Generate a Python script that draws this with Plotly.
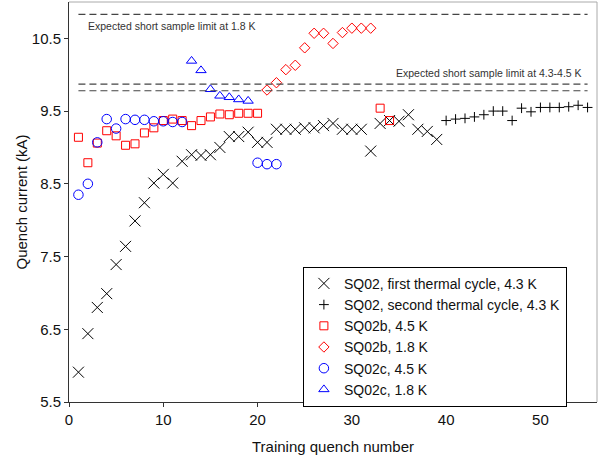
import plotly.graph_objects as go

# SQ02, first thermal cycle, 4.3 K
first_n = list(range(1, 40))
first_i = [5.91, 6.44, 6.80, 6.99, 7.39, 7.64, 7.99, 8.24, 8.51, 8.63,
           8.51, 8.81, 8.90, 8.89, 8.90, 9.00, 9.15, 9.15, 9.21, 9.07,
           9.07, 9.25, 9.25, 9.25, 9.27, 9.27, 9.30, 9.33, 9.25, 9.25,
           9.25, 8.95, 9.33, 9.37, 9.36, 9.45, 9.25, 9.22, 9.11]

# SQ02, second thermal cycle, 4.3 K
second_n = list(range(40, 56))
second_i = [9.37, 9.39, 9.40, 9.42, 9.45, 9.50, 9.50, 9.37, 9.54, 9.49,
            9.55, 9.55, 9.55, 9.56, 9.58, 9.55]

# SQ02b, 4.5 K
b45_n = list(range(1, 21)) + [33, 34]
b45_i = [9.14, 8.79, 9.06, 9.23, 9.16, 9.03, 9.05, 9.20, 9.27, 9.37,
         9.39, 9.37, 9.30, 9.37, 9.42, 9.46, 9.45, 9.47, 9.47, 9.47,
         9.54, 9.37]

# SQ02b, 1.8 K
b18_n = list(range(21, 33))
b18_i = [9.79, 9.89, 10.07, 10.13, 10.37, 10.57, 10.57, 10.43, 10.58,
         10.64, 10.64, 10.64]

# SQ02c, 4.5 K
c45_n = list(range(1, 13)) + [20, 21, 22]
c45_i = [8.35, 8.50, 9.07, 9.39, 9.26, 9.39, 9.38, 9.38, 9.36, 9.36,
         9.35, 9.35, 8.79, 8.77, 8.77]

# SQ02c, 1.8 K
c18_n = list(range(13, 20))
c18_i = [10.19, 10.06, 9.80, 9.71, 9.69, 9.66, 9.64]

# Expected short sample limits (kA) and the quench span they cover
limit_18 = [10.83]
limit_45 = [9.87, 9.78]
limit_span = [1, 55]

x_ticks = [0, 10, 20, 30, 40, 50]
y_ticks = [5.5, 6.5, 7.5, 8.5, 9.5, 10.5]

FONT = "Arial, Liberation Sans, sans-serif"

series = [
    (first_n, first_i, "SQ02, first thermal cycle, 4.3 K", "x-thin-open", 11, "black"),
    (second_n, second_i, "SQ02, second thermal cycle, 4.3 K", "cross-thin-open", 7, "black"),
    (b45_n, b45_i, "SQ02b, 4.5 K", "square-open", 8, "red"),
    (b18_n, b18_i, "SQ02b, 1.8 K", "diamond-open", 8, "red"),
    (c45_n, c45_i, "SQ02c, 4.5 K", "circle-open", 9.5, "blue"),
    (c18_n, c18_i, "SQ02c, 1.8 K", "triangle-up-open", 9, "blue"),
]

fig = go.Figure()
for xs, ys, name, sym, size, col in series:
    fig.add_trace(go.Scatter(
        x=xs, y=ys, name=name, mode="markers",
        marker=dict(symbol=sym, size=size, color=col,
                    line=dict(width=1, color=col)),
    ))

for lvl in limit_18 + limit_45:
    fig.add_shape(type="line", xref="x", yref="y",
                  x0=limit_span[0], x1=limit_span[1], y0=lvl, y1=lvl,
                  line=dict(color="#444", width=1.2, dash="7px,4px"))

# light frame on the top and right edges of the plot area
fig.add_shape(type="line", xref="paper", yref="paper", x0=0, x1=1, y0=1, y1=1,
              line=dict(color="#aaa", width=1))
fig.add_shape(type="line", xref="paper", yref="paper", x0=1, x1=1, y0=0, y1=1,
              line=dict(color="#aaa", width=1))

fig.add_annotation(x=limit_span[0], y=10.67, xref="x", yref="y",
                   text="Expected short sample limit at 1.8 K",
                   showarrow=False, xanchor="left", yanchor="middle",
                   xshift=8, font=dict(family=FONT, size=10.5, color="#333"))
fig.add_annotation(x=limit_span[1], y=10.02, xref="x", yref="y",
                   text="Expected short sample limit at 4.3-4.5 K",
                   showarrow=False, xanchor="right", yanchor="middle",
                   xshift=-4, font=dict(family=FONT, size=10.5, color="#333"))

fig.update_layout(
    width=606, height=460,
    margin=dict(l=69, r=9, t=2, b=58),
    paper_bgcolor="white", plot_bgcolor="white",
    font=dict(family=FONT, size=15, color="#111"),
    showlegend=True,
    legend=dict(x=0.443, y=0.338, xanchor="left", yanchor="top",
                bgcolor="white", bordercolor="black", borderwidth=1,
                font=dict(family=FONT, size=14, color="#111"),
                entrywidth=237, entrywidthmode="pixels",
                tracegroupgap=0),
    xaxis=dict(range=[0, 56], tickvals=x_ticks, ticks="outside", ticklen=4,
               tickcolor="#333", showline=True, linecolor="#333", linewidth=1,
               showgrid=False, zeroline=False,
               tickfont=dict(family=FONT, size=15),
               title=dict(text="Training quench number", standoff=14,
                          font=dict(family=FONT, size=15))),
    yaxis=dict(range=[5.5, 11.0], tickvals=y_ticks,
               ticktext=[f"{v:.1f}" for v in y_ticks],
               ticks="outside", ticklen=4,
               tickcolor="#333", showline=True, linecolor="#333", linewidth=1,
               showgrid=False, zeroline=False,
               tickfont=dict(family=FONT, size=15),
               title=dict(text="Quench current (kA)", standoff=0,
                          font=dict(family=FONT, size=15))),
)

fig.write_html("out.html")
